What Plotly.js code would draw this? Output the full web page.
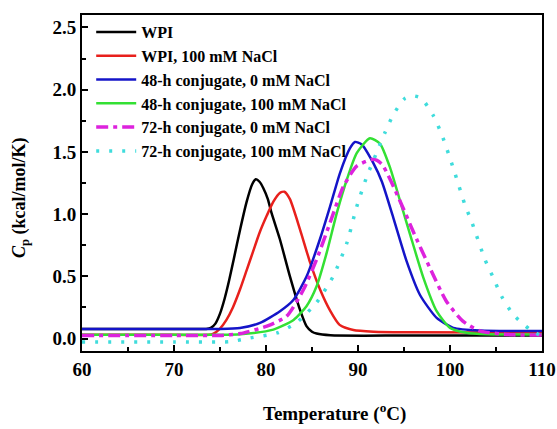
<!DOCTYPE html>
<html>
<head>
<meta charset="utf-8">
<script src="https://cdn.plot.ly/plotly-3.0.1.min.js"></script>
<style>html,body{margin:0;padding:0;background:#fff;}#chart{width:557px;height:429px;}</style>
</head>
<body>
<div id="chart"></div>
<script>
// Series names
var seriesNames = [
  "WPI",
  "WPI, 100 mM NaCl",
  "48-h conjugate, 0 mM NaCl",
  "48-h conjugate, 100 mM NaCl",
  "72-h conjugate, 0 mM NaCl",
  "72-h conjugate, 100 mM NaCl"
];

// WPI (black)
var wpiX = [60, 70, 73.5, 74.0, 74.5, 75.0, 75.5, 76.0, 76.5, 77.2, 77.9, 78.5, 78.9, 79.3, 79.7, 80.2, 80.6, 81.5, 82.6, 83.7, 84.4, 85.0, 85.5, 87, 95, 110];
var wpiY = [0.077, 0.077, 0.077, 0.085, 0.12, 0.20, 0.32, 0.47, 0.64, 0.88, 1.10, 1.24, 1.28, 1.26, 1.21, 1.12, 1.01, 0.80, 0.50, 0.23, 0.10, 0.055, 0.04, 0.026, 0.024, 0.024];

// WPI, 100 mM NaCl (red)
var wpiNaX = [60, 70, 73.8, 74.3, 75.0, 75.7, 76.4, 77.2, 77.9, 78.6, 79.3, 80.1, 80.8, 81.5, 82.0, 82.6, 83.7, 84.8, 85.9, 87.0, 88.0, 89.5, 91.7, 95, 110];
var wpiNaY = [0.03, 0.03, 0.03, 0.04, 0.08, 0.15, 0.25, 0.40, 0.55, 0.70, 0.85, 0.99, 1.10, 1.17, 1.18, 1.12, 0.876, 0.61, 0.39, 0.22, 0.11, 0.068, 0.055, 0.05, 0.048];

// 48-h conjugate, 0 mM NaCl (blue)
var c48X = [60, 70, 75, 77.17, 79.35, 81.52, 82.97, 84.42, 85.87, 86.96, 88.04, 89.13, 89.67, 90.4, 91.67, 92.6, 93.84, 95.29, 96.74, 98.55, 100.36, 103.3, 110];
var c48Y = [0.077, 0.077, 0.077, 0.085, 0.126, 0.22, 0.31, 0.50, 0.80, 1.06, 1.33, 1.53, 1.58, 1.56, 1.41, 1.26, 0.97, 0.62, 0.35, 0.166, 0.086, 0.064, 0.06];

// 48-h conjugate, 100 mM NaCl (green)
var c48NaX = [60, 70, 75, 77.2, 80.8, 83.0, 84.4, 85.5, 86.6, 87.7, 88.8, 89.86, 91.3, 92.4, 93.5, 94.6, 95.65, 97.1, 98.55, 100.0, 101.8, 104, 110];
var c48NaY = [0.03, 0.03, 0.03, 0.035, 0.072, 0.15, 0.26, 0.42, 0.69, 1.01, 1.28, 1.49, 1.61, 1.565, 1.37, 1.10, 0.84, 0.49, 0.22, 0.086, 0.046, 0.034, 0.032];

// 72-h conjugate, 0 mM NaCl (magenta)
var c72X = [60, 70, 75, 77.2, 80.1, 82.25, 84.05, 85.5, 86.96, 88.4, 89.86, 91.67, 92.6, 94.6, 96.0, 97.8, 99.6, 101.4, 103.3, 106.9, 110];
var c72Y = [0.025, 0.025, 0.025, 0.04, 0.10, 0.18, 0.39, 0.635, 0.93, 1.22, 1.385, 1.44, 1.40, 1.10, 0.86, 0.57, 0.30, 0.14, 0.059, 0.03, 0.028];

// 72-h conjugate, 100 mM NaCl (cyan)
var c72NaX = [60, 70, 76, 78.3, 81.2, 83.3, 85.5, 87.3, 88.8, 89.86, 90.95, 92.0, 92.9, 93.84, 95.1, 96.0, 96.9, 98.2, 99.1, 100.4, 101.6, 102.4, 103.8, 104.7, 105.6, 106.9, 108.7, 110];
var c72NaY = [-0.027, -0.027, -0.025, 0.005, 0.045, 0.126, 0.29, 0.50, 0.77, 1.06, 1.30, 1.49, 1.65, 1.80, 1.93, 1.95, 1.93, 1.79, 1.64, 1.36, 1.08, 0.93, 0.635, 0.49, 0.34, 0.19, 0.072, 0.02];

// Axis ticks
var xTicks = [60, 70, 80, 90, 100, 110];
var yTicks = [0.0, 0.5, 1.0, 1.5, 2.0, 2.5];

// Axis titles
var xTitle = "Temperature (<sup>o</sup>C)";
var yTitle = "<i>C</i><sub>p</sub> (kcal/mol/K)";

var colors = ["#000000", "#e8201c", "#1414c8", "#33e033", "#dd22dd", "#3fdcdc"];
var dashes = ["solid", "solid", "solid", "solid", "12px,5px,4px,5px", "3px,10px"];
var xs = [wpiX, wpiNaX, c48X, c48NaX, c72X, c72NaX];
var ys = [wpiY, wpiNaY, c48Y, c48NaY, c72Y, c72NaY];

var traces = [];
for (var i = 0; i < xs.length; i++) {
  traces.push({
    x: xs[i], y: ys[i], name: seriesNames[i], type: "scatter", mode: "lines",
    line: {color: colors[i], width: (i >= 4 ? 3.5 : 2.5), dash: dashes[i], shape: "spline", smoothing: 0.6}
  });
}

var fontFam = "'Liberation Serif', 'Times New Roman', serif";
var layout = {
  width: 557, height: 429,
  margin: {l: 82, r: 15, t: 15, b: 78},
  paper_bgcolor: "#fff", plot_bgcolor: "#fff",
  font: {family: fontFam, color: "#000"},
  showlegend: true,
  legend: {
    x: 0.02, y: 1.0, xanchor: "left", yanchor: "top",
    bgcolor: "rgba(0,0,0,0)", borderwidth: 0,
    font: {family: fontFam, size: 16, color: "#000", weight: "bold"},
    tracegroupgap: 0, itemwidth: 40
  },
  xaxis: {
    range: [60, 110], tickvals: xTicks, ticktext: xTicks.map(String),
    ticks: "inside", ticklen: 6, tickwidth: 2, tickcolor: "#000",
    minor: {dtick: 5, ticks: "inside", ticklen: 4, tickwidth: 2, tickcolor: "#000"},
    showline: true, linewidth: 2, linecolor: "#000", mirror: true,
    showgrid: false, zeroline: false,
    tickfont: {family: fontFam, size: 19, color: "#000", weight: "bold"}
  },
  yaxis: {
    range: [-0.1, 2.6], tickvals: yTicks, ticktext: yTicks.map(function(v){return v.toFixed(1);}),
    ticks: "inside", ticklen: 6, tickwidth: 2, tickcolor: "#000",
    minor: {dtick: 0.25, tick0: 0, ticks: "inside", ticklen: 4, tickwidth: 2, tickcolor: "#000"},
    showline: true, linewidth: 2, linecolor: "#000", mirror: true,
    showgrid: false, zeroline: false,
    tickfont: {family: fontFam, size: 19, color: "#000", weight: "bold"}
  },
  annotations: [
    {text: xTitle, xref: "paper", yref: "paper", x: 0.548, y: -0.1845, xanchor: "center", yanchor: "middle",
     showarrow: false, font: {family: fontFam, size: 19, color: "#000", weight: "bold"}},
    {text: yTitle, xref: "paper", yref: "paper", x: -0.135, y: 0.458, xanchor: "center", yanchor: "middle",
     textangle: -90, showarrow: false, font: {family: fontFam, size: 18, color: "#000", weight: "bold"}}
  ]
};

Plotly.newPlot("chart", traces, layout, {displayModeBar: false, staticPlot: true});
</script>
</body>
</html>
